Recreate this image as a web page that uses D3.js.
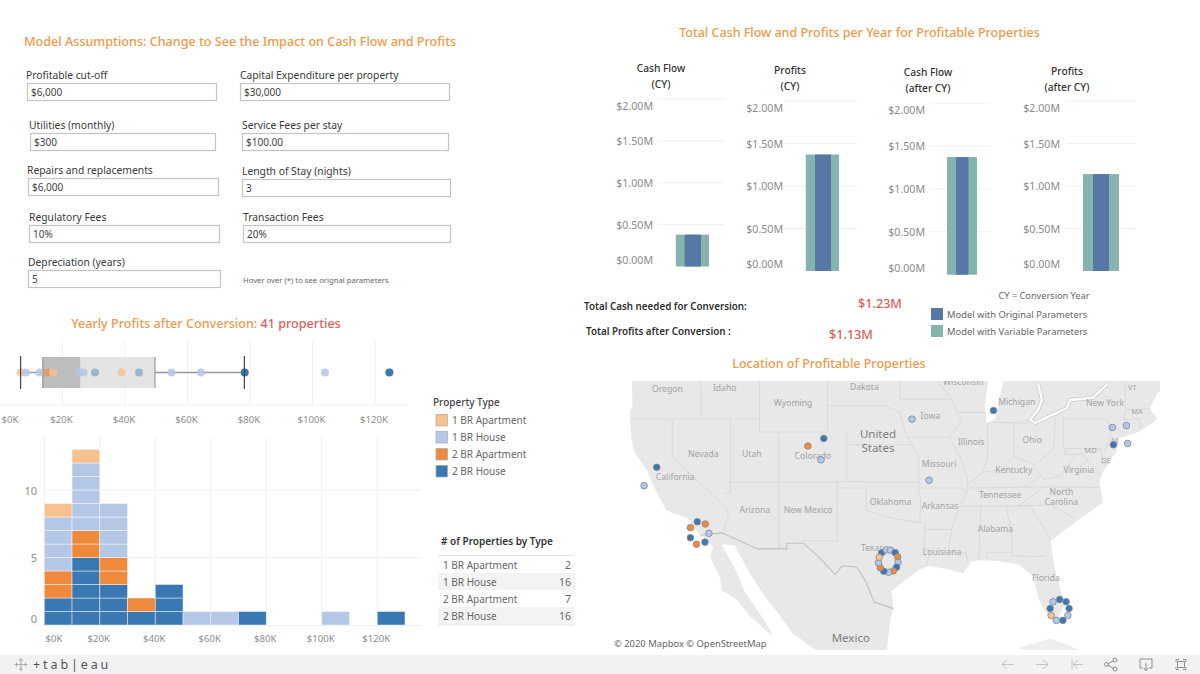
<!DOCTYPE html>
<html><head><meta charset="utf-8">
<script src="https://cdn.jsdelivr.net/npm/d3@7/dist/d3.min.js"></script>
<style>html,body{margin:0;padding:0;background:#fff}svg{display:block;font-family:"Noto Sans","Open Sans",sans-serif}</style>
</head><body><svg id="c" width="1200" height="674"></svg>
<script>
// ---------- data ----------
const propertyTypes = ["1 BR Apartment","1 BR House","2 BR Apartment","2 BR House"];
const typeCounts = [2,16,7,16];
const typeColors = ["#f6c18f","#b4c7e6","#ef8a3c","#3a78b3"];
const fieldLabels = ["Profitable cut-off","Capital Expenditure per property","Utilities (monthly)","Service Fees per stay","Repairs and replacements","Length of Stay (nights)","Regulatory Fees","Transaction Fees","Depreciation (years)"];
const fieldValues = ["$6,000","$30,000","$300","$100.00","$6,000","3","10%","20%","5"];
const panelTitles = [["Cash Flow","(CY)"],["Profits","(CY)"],["Cash Flow","(after CY)"],["Profits","(after CY)"]];
const panelOriginal = [0.38,1.37,1.37,1.14];
const panelVariable = [0.38,1.37,1.37,1.14];
const moneyTicks = [0,0.5,1,1.5,2];
const boxStats = {low:6.6,q1:13.7,median:25.8,q3:49.6,high:78.2};
const dotValues = [6.6,8.3,12.6,14.9,17,25.3,26.7,30.4,38.9,44.5,54.9,64.3,78.3,104,124.6];
const dotTypes  = [0,1,1,2,0,1,1,3,0,3,1,1,3,1,3];
const kTicks = [0,20,40,60,80,100,120];
const binStarts = [0,10,20,30,40,50,60,70,100,120];
const bin2BRHouse = [2,5,3,1,3,0,0,1,0,1];
const bin2BRApt   = [2,2,2,1,0,0,0,0,0,0];
const bin1BRHouse = [4,5,4,0,0,1,1,0,1,0];
const bin1BRApt   = [1,1,0,0,0,0,0,0,0,0];
const countTicks = [0,5,10];
const mapLon = [-121.6,-122.9,-117.42,-116.6,-116.22,-116.63,-117.5,-118.13,-118.13,-104.38,-106.03,-104.67,-95.3,-93.54,-86.9,-74.65,-73.2,-74.54,-73.07,
 -98.42,-97.93,-97.52,-97.03,-96.77,-96.73,-96.89,-97.22,-97.71,-98.2,-98.57,-98.75,-98.68,
 -80.76,-80.08,-79.41,-79.11,-79.23,-79.75,-80.42,-80.95,-81.06];
const mapLat = [38.2,36.7,33.66,33.47,32.66,31.89,31.71,32.28,33.15,40.5,39.9,38.8,42,37.14,42.65,41.35,41.5,40,40.1,
 30.95,31.21,31.19,30.97,30.59,30.12,29.67,29.34,29.22,29.31,29.63,30.08,30.56,
 26.53,26.74,26.53,25.91,25.26,24.8,24.8,25.26,25.91];
const mapType = [3,1,3,2,1,3,2,3,2,3,2,1,1,1,3,1,1,3,1,
 3,1,1,3,2,1,3,2,1,3,2,1,0,
 1,3,3,3,1,3,1,0,3];
const placeNames = ["Oregon","Idaho","Dakota","Wisconsin","Wyoming","Michigan","New York","VT","MA","Iowa","Nevada","Utah","Colorado","Illinois","Ohio","MD","NJ","DE","Missouri","Kentucky","Virginia","California","Oklahoma","Tennessee","North","Carolina","Arkansas","Arizona","New Mexico","Alabama","Texas","Louisiana","Florida"];
const placeLon = [-120.5,-114.6,-100.2,-90,-107.55,-84.5,-75.4,-72.6,-72.1,-93.4,-116.8,-111.8,-105.5,-89.2,-82.9,-76.9,-74.4,-75.3,-92.5,-84.8,-78.1,-119.7,-97.5,-86.2,-79.9,-79.9,-92.4,-111.5,-106,-86.7,-99.4,-92.2,-81.5];
const placeLat = [44.25,44.3,44.4,44.75,43.2,43.3,43.2,44.4,42.65,42.2,39.3,39.3,39.1,40.2,40.4,39.6,40.4,38.8,38.5,38,38,37.4,35.3,35.9,36.2,35.3,35,34.7,34.7,33,31.4,31,28.7];
const bigPlaces = [["United",-98.8,40.9],["States",-98.8,39.8],["Mexico",-101.6,23.2]];
const landOutline = [[-125,48],[-124.2,46],[-124.1,43],[-124.4,42.5],[-124.2,40.4],[-123.8,39.3],[-122.5,37.8],[-121.9,36.6],[-120.6,34.6],[-118.5,34],[-117.2,32.6],[-115.8,31.5],[-116.1,30.6],[-115.1,28.8],[-114.9,27.6],[-113.3,26.7],[-112,25.2],[-109.9,23.5],[-109.6,23.4],[-110.8,25.2],[-112.5,27.4],[-113.5,29.5],[-114.8,31.5],[-114.9,31.7],[-113.5,31.6],[-113.5,31.5],[-112,29.1],[-110.2,26.7],[-109.2,25.6],[-107.6,23.6],[-105.5,22.2],[-105,21.9],[-97.9,21.9],[-97.5,25],[-97.2,26],[-97.4,27.5],[-96,28.5],[-94.5,29.5],[-93.5,29.8],[-91.5,29.5],[-90,29.1],[-89.2,30.2],[-88,30.3],[-86.2,30.2],[-84.2,29.9],[-82.8,28.8],[-82.3,27],[-81.4,25.3],[-80.3,24.8],[-79.5,26.5],[-80,27.6],[-80.7,30],[-81,32],[-79,33.3],[-77.5,34.2],[-75.6,35.3],[-76,37],[-75.5,38],[-74.2,39.5],[-74,40.5],[-72,41],[-70.5,41.7],[-70,42],[-70.8,42.8],[-70,44],[-67,45],[-67,48]];
const cubaOutline = [[-84.4,22.2],[-81,23.1],[-78,22],[-77,21.3],[-78.5,21],[-81,22],[-83.5,21.9]];
const lakeMichigan = [[-87.6,41.7],[-87.7,42.5],[-87.8,43],[-87.4,45],[-85.8,45],[-86.3,43.5],[-86.7,42]];
const lakeChannel = [[-82.3,44.65],[-81.9,43.45],[-82.3,42.7],[-83.1,41.95],[-82.6,41.7],[-79.3,42.85],[-79,43.45],[-76.7,43.6],[-75.2,44.6]];
const mexicoBorder = [[-117.1,32.5],[-114.9,32.7],[-111.2,31.3],[-108.2,31.3],[-108.2,31.8],[-106.5,31.8],[-104.8,30.5],[-103.2,29],[-102.5,29.8],[-101,29.7],[-100,28.3],[-99.2,26.5],[-97.2,25.9]];
const stateLines = [
 [[-117.2,45],[-117,44],[-117,42]],[[-124.3,42],[-111,42]],[[-111,45],[-111,41],[-109,41],[-109,31.3]],[[-109,41],[-104,41]],[[-104,45],[-104,41]],
 [[-114,42],[-114,36.2],[-114.6,36]],[[-120,42],[-120,39],[-114.6,35],[-114.2,34.3],[-114.7,33],[-114.8,32.6]],[[-114,37],[-94.6,37]],
 [[-103,37],[-103,32],[-106.6,32]],[[-103,36.5],[-100,36.5],[-100,34.6],[-97,33.9],[-94.5,33.6],[-94,33.6],[-94,31.5],[-93.5,31],[-93.8,29.7]],
 [[-94.6,36.5],[-94.4,35.4],[-94.5,33.6]],[[-102,41],[-102,37]],[[-102,40],[-95.3,40]],[[-104,43],[-98,43],[-96.5,42.5],[-96,41],[-95.3,40],[-94.6,39.1],[-94.6,36.5]],
 [[-96.5,45],[-96.5,43.5],[-91.2,43.5],[-90.2,41.8],[-91.4,40.6],[-95.7,40.6]],[[-91.4,40.6],[-90.2,38.8],[-89.5,37],[-89.7,36],[-90.4,35],[-91.2,33],[-91.6,31],[-89.7,31],[-89.6,30.2]],
 [[-94.6,36.5],[-90.1,36.5],[-89.7,36]],[[-94,33],[-91.2,33]],[[-87.5,42.5],[-90.6,42.5]],[[-87.5,41.7],[-87.5,39],[-88,37.8],[-89.2,37]],[[-92.8,45],[-91.2,43.5]],
 [[-84.8,41.7],[-84.8,39.1]],[[-87,41.75],[-83.4,41.7]],[[-89.2,37],[-88,37.8],[-86,38],[-84.8,39.1],[-82.6,38.4],[-80.7,39.7],[-80.5,42]],
 [[-79.7,42.2],[-79.7,39.7],[-75.8,39.7]],[[-79.7,42],[-75.3,42],[-74.7,41.4],[-73.6,41]],[[-73.3,45],[-73.3,42.7],[-73.5,41.2]],[[-73.3,42.7],[-70.8,42.8]],[[-73.5,42],[-71.8,42],[-71.8,41.3]],
 [[-74.7,41.4],[-75.1,40],[-75.5,39.5]],[[-75.8,39.7],[-75.7,38.5],[-75,38.5]],[[-89.5,36.5],[-81.7,36.6],[-75.9,36.55]],[[-82.6,38.2],[-81.7,37.2],[-80,37.5],[-78.4,39.2],[-77.7,39.3]],[[-82,37.5],[-83.7,36.6]],
 [[-81.7,36.6],[-84.3,35]],[[-90.3,35],[-83.1,35]],[[-84.3,35],[-81,35.1],[-78.5,33.9]],[[-83.1,35],[-81,32.1]],[[-85.6,35],[-85,32.5],[-85,31]],[[-88.2,35],[-88.4,30.4]],
 [[-87.6,31],[-85,31],[-84.9,30.7],[-82.2,30.6],[-81.5,30.7]],[[-87.6,31],[-87.5,30.3]],[[-79.5,39.7],[-79.5,39.2],[-77.7,39.3],[-77,38.5],[-76.2,38]]];

// ---------- helpers ----------
const svg = d3.select("#c");
const orange="#ec9a4b", red="#d9605a", ink="#3c3c3c", grey="#8c8c8c", grid="#f0f0f0";
function T(x,y,s,o={}){return svg.append("text").attr("x",x).attr("y",y).attr("dominant-baseline","central")
  .attr("text-anchor",o.a||"start").attr("font-size",o.s||10.5).attr("font-weight",o.w||400).attr("fill",o.c||ink).text(s);}

// ---------- parameters ----------
T(24,41,"Model Assumptions: Change to See the Impact on Cash Flow and Profits",{s:12.6,w:500,c:orange});
const fieldBoxes=[[26,75,27,83,189],[240,75,240,83,209],[29,125,30,133,185],[242,125,242,133,206],[27,170,28,178,190],[242,171,242,179,208],[29,217,29,225,190],[243,217,243,225,207],[28,262,28,270,192]];
fieldLabels.forEach((l,i)=>{const b=fieldBoxes[i];
  T(b[0],b[1],l,{s:10.3,c:"#3a3a3a"});
  svg.append("rect").attr("x",b[2]+.5).attr("y",b[3]+.5).attr("width",b[4]).attr("height",17).attr("fill","#fff").attr("stroke","#c4c4c4").attr("stroke-width",1.2);
  T(b[2]+4,b[3]+8.5,fieldValues[i],{s:10,c:"#444"});
});
T(243,280,"Hover over (*) to see orignal parameters",{s:7.7,c:"#666"});

// ---------- small multiples ----------
T(859.5,32,"Total Cash Flow and Profits per Year for Profitable Properties",{a:"middle",s:12.5,w:500,c:orange});
const panels=[{t:661,ty:68,lx:653,g0:657,g1:725,top:99,base:266.5,o:[684.6,701],v:[675.8,709]},
 {t:790,ty:70,lx:783,g0:784,g1:857,top:101,base:271,o:[815,831],v:[805.8,839]},
 {t:928,ty:72,lx:925,g0:929,g1:991,top:103,base:274.7,o:[956,968.5],v:[947,977]},
 {t:1067,ty:71,lx:1060,g0:1066,g1:1136,top:101,base:271,o:[1093,1109],v:[1083,1119]}];
const fmtM=d3.format("$.2f");
panels.forEach((p,i)=>{
  const y=d3.scaleLinear().domain([0,2]).range([p.base,p.top]);
  panelTitles[i].forEach((s,j)=>T(p.t,p.ty+j*16,s,{a:"middle",s:10.2,w:500,c:"#333"}));
  moneyTicks.forEach(v=>{
    if(v>0) svg.append("line").attr("x1",p.g0).attr("x2",p.g1).attr("y1",y(v)).attr("y2",y(v)).attr("stroke",grid);
    const off=v===2?7:v===0?-7:0;
    T(p.lx,y(v)+off,fmtM(v)+"M",{a:"end",s:10.6,c:grey});
  });
  svg.append("rect").attr("x",p.v[0]).attr("width",p.v[1]-p.v[0]).attr("y",y(panelVariable[i])).attr("height",p.base-y(panelVariable[i])).attr("fill","#85b4ae");
  svg.append("rect").attr("x",p.o[0]).attr("width",p.o[1]-p.o[0]).attr("y",y(panelOriginal[i])).attr("height",p.base-y(panelOriginal[i])).attr("fill","#5778a5");
});
T(584,306,"Total Cash needed for Conversion:",{s:9.8,w:600,c:"#2f2f2f"});
T(586,331,"Total Profits after Conversion :",{s:9.8,w:600,c:"#2f2f2f"});
T(880,303,"$1.23M",{a:"middle",s:12.6,w:500,c:red});
T(851,334,"$1.13M",{a:"middle",s:12.6,w:500,c:red});
T(1044,295,"CY = Conversion Year",{a:"middle",s:9.2,c:"#666"});
[["Model with Original Parameters","#5778a5",308],["Model with Variable Parameters","#85b4ae",325]].forEach(d=>{
  svg.append("rect").attr("x",931).attr("y",d[2]).attr("width",12).attr("height",12).attr("fill",d[1]);
  T(947,d[2]+6,d[0],{s:9.4,c:"#666"});
});

// ---------- box plot ----------
const yp=svg.append("text").attr("x",206).attr("y",323).attr("dominant-baseline","central").attr("text-anchor","middle").attr("font-size",12.6).attr("font-weight",500).attr("fill",orange);
yp.append("tspan").text("Yearly Profits after Conversion: ");
yp.append("tspan").attr("fill",red).text("41 properties");
const bx=d3.scaleLinear().domain([0,130]).range([0,406.25]);
kTicks.forEach(k=>{
  if(k>0) svg.append("line").attr("x1",bx(k)).attr("x2",bx(k)).attr("y1",340).attr("y2",405).attr("stroke",grid);
  T(k===0?10:bx(k)-1,419,"$"+k+"K",{a:"middle",s:9.6,c:grey});
});
svg.append("line").attr("x1",0).attr("x2",408).attr("y1",405).attr("y2",405).attr("stroke",grid);
const by=372.5;
svg.append("rect").attr("x",bx(boxStats.q1)).attr("y",357).attr("width",bx(boxStats.median)-bx(boxStats.q1)).attr("height",31).attr("fill","#bdbdbd");
svg.append("rect").attr("x",bx(boxStats.median)).attr("y",357).attr("width",bx(boxStats.q3)-bx(boxStats.median)).attr("height",31).attr("fill","#e4e4e4");
[[boxStats.low,boxStats.q1],[boxStats.q3,boxStats.high]].forEach(s=>svg.append("line").attr("x1",bx(s[0])).attr("x2",bx(s[1])).attr("y1",by).attr("y2",by).attr("stroke","#999").attr("stroke-width",1.5));
[boxStats.q1,boxStats.q3].forEach(v=>svg.append("line").attr("x1",bx(v)).attr("x2",bx(v)).attr("y1",357).attr("y2",388).attr("stroke","#8a8a8a").attr("stroke-width",1));
dotValues.forEach((v,i)=>{
  svg.append("circle").attr("cx",bx(v)).attr("cy",by).attr("r",4).attr("fill",typeColors[dotTypes[i]])
   .attr("opacity",v>120||v===78.3?1:(v<30&&dotTypes[i]===2?.6:(dotTypes[i]===3?.42:.85)));
});
[boxStats.low,boxStats.high].forEach(v=>svg.append("line").attr("x1",bx(v)).attr("x2",bx(v)).attr("y1",356).attr("y2",389).attr("stroke","#444").attr("stroke-width",1.2));

// ---------- histogram ----------
const hx=d3.scaleLinear().domain([0,130]).range([44.3,405]);
const hy=d3.scaleLinear().domain([0,13]).range([625,449.5]);
kTicks.forEach(k=>{svg.append("line").attr("x1",hx(k)).attr("x2",hx(k)).attr("y1",437).attr("y2",625).attr("stroke",grid);
  T(k===0?54:hx(k)-1,638,"$"+k+"K",{a:"middle",s:9.6,c:grey});});
countTicks.forEach(c=>{ if(c>0) svg.append("line").attr("x1",44).attr("x2",421).attr("y1",hy(c)).attr("y2",hy(c)).attr("stroke",grid);
  T(37,c===0?618:hy(c),c,{a:"end",s:11,c:grey});});
svg.append("line").attr("x1",44).attr("x2",421).attr("y1",625.5).attr("y2",625.5).attr("stroke",grid);
binStarts.forEach((b,i)=>{
  let h=0;
  [[bin2BRHouse,3],[bin2BRApt,2],[bin1BRHouse,1],[bin1BRApt,0]].forEach(([arr,t])=>{
    for(let n=0;n<arr[i];n++){
      svg.append("rect").attr("x",hx(b)).attr("width",hx(b+10)-hx(b)).attr("y",hy(h+1)).attr("height",hy(h)-hy(h+1))
       .attr("fill",typeColors[t]).attr("stroke","#fff").attr("stroke-opacity",.55).attr("stroke-width",.8);
      h++;
    }
  });
});

// ---------- legend and table ----------
T(433,402,"Property Type",{s:10,w:500,c:"#444"});
propertyTypes.forEach((p,i)=>{const yy=420+i*17;
  svg.append("rect").attr("x",436).attr("y",yy-5.5).attr("width",11.5).attr("height",11.5).attr("fill",typeColors[i]).attr("stroke","#a8a8a8").attr("stroke-width",.7);
  T(452,yy,p,{s:10,c:"#666"});
});
T(441,541,"# of Properties by Type",{s:10,w:600,c:"#333"});
propertyTypes.forEach((p,i)=>{const y0=556+i*17;
  if(i%2) svg.append("rect").attr("x",438).attr("y",y0).attr("width",137).attr("height",17).attr("fill","#f3f3f3");
  T(443,y0+9,p,{s:10,c:"#666"});
  T(571,y0+9,typeCounts[i],{a:"end",s:10.4,c:"#666"});
});
[555.5,625].forEach(y=>svg.append("line").attr("x1",438).attr("x2",575).attr("y1",y).attr("y2",y).attr("stroke","#e4e4e4").attr("stroke-width",1.2));

// ---------- map ----------
T(829,363,"Location of Profitable Properties",{a:"middle",s:12.5,w:500,c:orange});
svg.append("clipPath").attr("id","mapClip").append("rect").attr("x",628).attr("y",381).attr("width",532).attr("height",269);
const proj=d3.geoMercator().scale(556).center([-109,37]).translate([779,482]);
const line=d3.line().x(d=>proj(d)[0]).y(d=>proj(d)[1]);
const m=svg.append("g").attr("clip-path","url(#mapClip)");
m.append("path").attr("d",line(landOutline)+"Z").attr("fill","#e8e8e8");
m.append("path").attr("d",line(cubaOutline)+"Z").attr("fill","#eeeeee");
stateLines.forEach(s=>m.append("path").attr("d",line(s)).attr("fill","none").attr("stroke","#d6d6d6").attr("stroke-width",.8));
m.append("path").attr("d",line(mexicoBorder)).attr("fill","none").attr("stroke","#c0c0c0").attr("stroke-width",1.1);
m.append("path").attr("d",line(lakeMichigan)+"Z").attr("fill","#fff");
m.append("path").attr("d",line(lakeChannel)).attr("fill","none").attr("stroke","#c4c4c4").attr("stroke-width",4);
m.append("path").attr("d",line(lakeChannel)).attr("fill","none").attr("stroke","#fff").attr("stroke-width",2.6);
placeNames.forEach((n,i)=>{const q=proj([placeLon[i],placeLat[i]]);
  m.append("text").attr("x",q[0]).attr("y",q[1]).attr("dominant-baseline","central").attr("text-anchor","middle").attr("font-size",/^(MD|NJ|DE|VT|MA)$/.test(n)?7.5:8.6).attr("fill","#a3a3a3").text(n);});
bigPlaces.forEach(b=>{const q=proj([b[1],b[2]]);
  m.append("text").attr("x",q[0]).attr("y",q[1]).attr("dominant-baseline","central").attr("text-anchor","middle").attr("font-size",11.5).attr("fill","#7d7d7d").text(b[0]);});
mapLon.forEach((lon,i)=>{const q=proj([lon,mapLat[i]]);
  m.append("circle").attr("cx",q[0]).attr("cy",q[1]).attr("r",3.3).attr("fill",typeColors[mapType[i]]).attr("stroke",mapType[i]===1?"#77869e":"#8a8a8a").attr("stroke-width",.8);});
T(614,643,"© 2020 Mapbox  © OpenStreetMap",{s:9.4,c:"#666"});

// ---------- footer ----------
svg.append("rect").attr("x",0).attr("y",655).attr("width",1200).attr("height",19).attr("fill","#f2f2f2");
const lg=svg.append("g").attr("stroke","#999").attr("stroke-width",.8);
[[21,660,4],[21,669,4],[16.5,664.5,4],[25.5,664.5,4],[21,664.5,5]].forEach(c=>{
  lg.append("line").attr("x1",c[0]-c[2]/2).attr("x2",c[0]+c[2]/2).attr("y1",c[1]).attr("y2",c[1]);
  lg.append("line").attr("x1",c[0]).attr("x2",c[0]).attr("y1",c[1]-c[2]/2).attr("y2",c[1]+c[2]/2);});
T(33,664.5,"+tab|eau",{s:12.5,c:"#555"}).attr("letter-spacing",2.9);
const ic=svg.append("g").attr("fill","none").attr("stroke","#c2c2c2").attr("stroke-width",1);
[["M1002 664.5H1014M1007 660L1002 664.5L1007 669"],["M1036 664.5H1048M1043 660L1048 664.5L1043 669"],
 ["M1072 659V670M1083 664.5H1073M1078 660L1073 664.5L1078 669"]].forEach(d=>ic.append("path").attr("d",d[0]));
const ic2=svg.append("g").attr("fill","none").attr("stroke","#8f8f8f").attr("stroke-width",1);
ic2.append("path").attr("d","M1107.5 664L1114 660.5M1107.5 665L1114 668.5");
[[1106.5,664.5],[1115,660],[1115,669]].forEach(c=>ic2.append("circle").attr("cx",c[0]).attr("cy",c[1]).attr("r",2));
ic2.append("path").attr("d","M1143 668H1140V659H1152V668H1149M1146 663V670M1144 668L1146 671L1148 668");
ic2.append("path").attr("d","M1176 662V659.5H1179M1183 659.5H1186V662M1186 667V669.5H1183M1179 669.5H1176V667");
ic2.append("rect").attr("x",1177.5).attr("y",661.5).attr("width",7).attr("height",6);
</script></body></html>
